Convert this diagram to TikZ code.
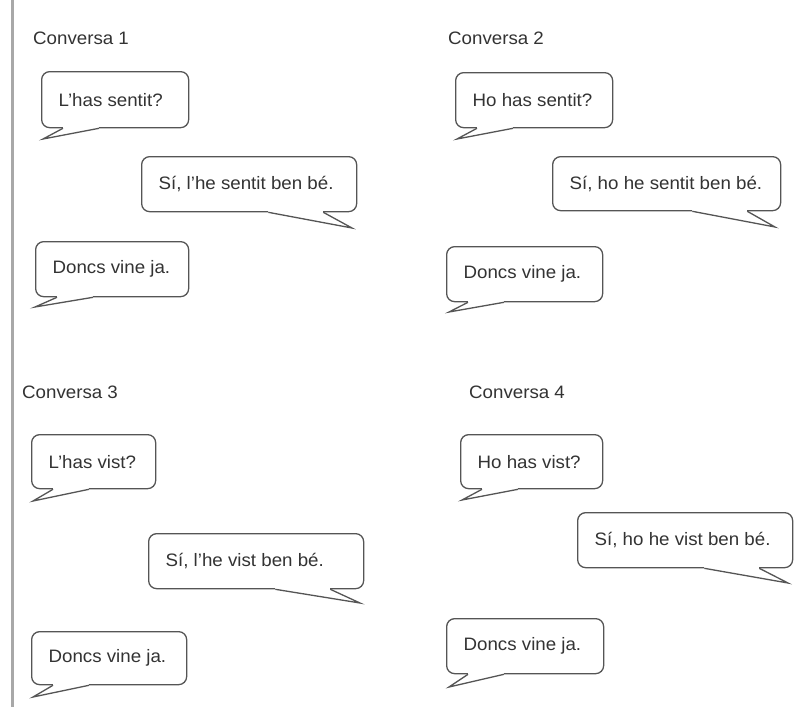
\documentclass[tikz,border=0pt]{standalone}
\usepackage{fontspec}
\setmainfont{Liberation Sans}[FakeStretch=1.04]
\usetikzlibrary{calc}
\definecolor{txt}{HTML}{333333}
\definecolor{edge}{HTML}{555555}
\definecolor{bar}{HTML}{A8A8A8}
\tikzset{
  bubble/.style={draw=edge, line width=1.3pt, rounded corners=8pt, fill=white,
    inner xsep=17pt, inner ysep=0pt, text=txt, font=\fontsize{18}{21}\selectfont},
  tail/.style={draw=edge, line width=1.3pt},
  title/.style={text=txt, font=\fontsize{18}{21}\selectfont, inner sep=0pt, anchor=west}
}
% #1 name, #2 left, #3 top, #4 right, #5 bottom, #6 text, #7 tip x, #8 tip y
\newcommand\bubleft[8]{%
  \pgfmathsetmacro\bw{#4-#2}\pgfmathsetmacro\bh{#5-#3}%
  \node[bubble, minimum width=\bw pt, minimum height=\bh pt, anchor=north west] (#1) at (#2,#3)
    {\makebox[\dimexpr\bw pt-34pt\relax][l]{#6}};
  \coordinate (#1tip) at (#7,#8);
  \fill[white] ($(#1.south west)+(22,1.2)$) rectangle ($(#1.south west)+(58,-1.2)$);
  \draw[tail] ($(#1.south west)+(22,0)$) -- (#1tip) -- ($(#1.south west)+(58,0)$);
}
\newcommand\bubright[8]{%
  \pgfmathsetmacro\bw{#4-#2}\pgfmathsetmacro\bh{#5-#3}%
  \node[bubble, minimum width=\bw pt, minimum height=\bh pt, anchor=north west] (#1) at (#2,#3)
    {\makebox[\dimexpr\bw pt-34pt\relax][l]{#6}};
  \coordinate (#1tip) at (#7,#8);
  \fill[white] ($(#1.south east)+(-89,1.2)$) rectangle ($(#1.south east)+(-34,-1.2)$);
  \draw[tail] ($(#1.south east)+(-89,0)$) -- (#1tip) -- ($(#1.south east)+(-34,0)$);
}
\begin{document}
\begin{tikzpicture}[x=1pt,y=-1pt]
\useasboundingbox[fill=white] (0,0) rectangle (801,707);
\coordinate (bartop) at (12,0);
\coordinate (barbot) at (12,707);
\draw[bar, line width=3pt] (bartop) -- (barbot);

\node[title] (t1) at (33,38) {Conversa 1};
\node[title] (t2) at (448,38) {Conversa 2};
\node[title] (t3) at (22,392) {Conversa 3};
\node[title] (t4) at (469,392) {Conversa 4};

\bubleft{c1a}{41}{71}{188}{127}{L'has sentit?}{43}{139}
\bubright{c1b}{141}{156}{356}{211}{Sí, l'he sentit ben bé.}{352}{228}
\bubleft{c1c}{35}{241}{188}{296}{Doncs vine ja.}{35}{307}

\bubleft{c2a}{455}{72}{612}{127}{Ho has sentit?}{457}{139}
\bubright{c2b}{552}{156}{780}{210}{Sí, ho he sentit ben bé.}{775}{227}
\bubleft{c2c}{446}{246}{602}{301}{Doncs vine ja.}{449}{312}

\bubleft{c3a}{31}{434}{155}{488}{L'has vist?}{33}{501}
\bubright{c3b}{148}{533}{363}{588}{Sí, l'he vist ben bé.}{360}{603}
\bubleft{c3c}{31}{631}{186}{684}{Doncs vine ja.}{33}{697}

\bubleft{c4a}{460}{434}{602}{488}{Ho has vist?}{462}{500}
\bubright{c4b}{577}{512}{792}{567}{Sí, ho he vist ben bé.}{788}{583}
\bubleft{c4c}{446}{618}{603}{673}{Doncs vine ja.}{449}{687}
\end{tikzpicture}
\end{document}
